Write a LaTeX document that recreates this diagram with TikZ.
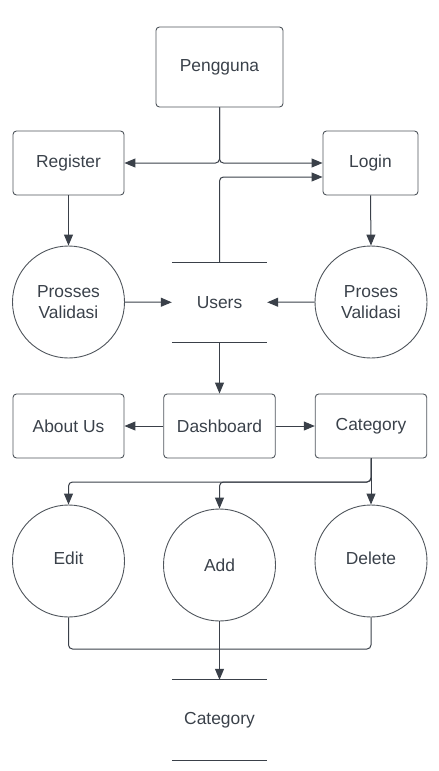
\documentclass[tikz,border=0pt]{standalone}
\usepackage{fontspec}
\setmainfont{Liberation Sans}
\usetikzlibrary{arrows.meta,calc}
\definecolor{ln}{HTML}{3A4049}
\definecolor{bd}{HTML}{4F555C}
\definecolor{tx}{HTML}{3A414A}
\tikzset{
  box/.style={draw=bd,line width=0.9pt,rounded corners=3.5pt,inner sep=0pt,minimum height=64pt,text=tx,font=\fontsize{17.4}{21}\selectfont,align=center},
  proc/.style={draw=bd,line width=0.9pt,circle,inner sep=0pt,minimum size=112pt,text=tx,font=\fontsize{17.4}{21}\selectfont,align=center},
  store/.style={inner sep=0pt,minimum width=95pt,minimum height=79.5pt,text=tx,font=\fontsize{17.4}{21}\selectfont},
  arr/.style={draw=ln,line width=1pt,-{Triangle[length=11pt,width=9pt]},rounded corners=4pt},
  con/.style={draw=ln,line width=1pt,rounded corners=4pt},
  sline/.style={draw=ln,line width=1pt}
}
\begin{document}
\begin{tikzpicture}[x=1pt,y=-1pt]
\useasboundingbox (0,0) rectangle (439,771);
\node[box,minimum width=127pt,minimum height=80pt] (peng) at (219.5,67) {Pengguna};
\node[box,minimum width=111pt] (reg) at (68.5,163) {Register};
\node[box,minimum width=95pt] (login) at (370.5,163) {Login};
\node[proc] (pv1) at (68.5,302) {Prosses\\[0pt]Validasi};
\node[proc] (pv2) at (371,302) {Proses\\[0pt]Validasi};
\node[store] (users) at (219.5,302.3) {Users};
\draw[sline] (users.north west) -- (users.north east);
\draw[sline] (users.south west) -- (users.south east);
\node[box,minimum width=111pt] (about) at (68.5,426) {About Us};
\node[box,minimum width=111.5pt] (dash) at (219.5,426) {Dashboard};
\node[box,minimum width=111.5pt] (cat) at (371,426) {Category};
\node[proc] (edit) at (68.5,561) {};
\node[tx,font=\fontsize{17.4}{21}\selectfont] at (68.5,558) {Edit};
\node[proc] (add) at (219.5,565) {Add};
\node[proc] (del) at (371,561) {};
\node[tx,font=\fontsize{17.4}{21}\selectfont] at (371,558) {Delete};
\node[store,minimum height=80pt] (cat2) at (219.5,720) {Category};
\draw[sline] (cat2.north west) -- (cat2.north east);
\draw[sline] (cat2.south west) -- (cat2.south east);
% connectors
\draw[arr] (peng.south) |- (reg.east);
\draw[arr] (peng.south) |- (login.west);
\draw[arr] (users.north) |- ([yshift=-14pt]login.west);
\draw[arr] (reg.south) -- (pv1.north);
\draw[arr] (login.south) -- (pv2.north);
\draw[arr] (pv1.east) -- (users.west);
\draw[arr] (pv2.west) -- (users.east);
\draw[arr] (users.south) -- (dash.north);
\draw[arr] (dash.west) -- (about.east);
\draw[arr] (dash.east) -- (cat.west);
\coordinate (sp) at (371,482);
\draw[arr] (cat.south) -- (sp) -| (edit.north);
\draw[arr] (cat.south) -- (sp) -| (add.north);
\draw[arr] (cat.south) -- (del.north);
\coordinate (jn) at (219.5,649);
\draw[con] (edit.south) |- (jn);
\draw[con] (del.south) |- (jn);
\draw[arr] (add.south) -- (cat2.north);
\end{tikzpicture}
\end{document}
